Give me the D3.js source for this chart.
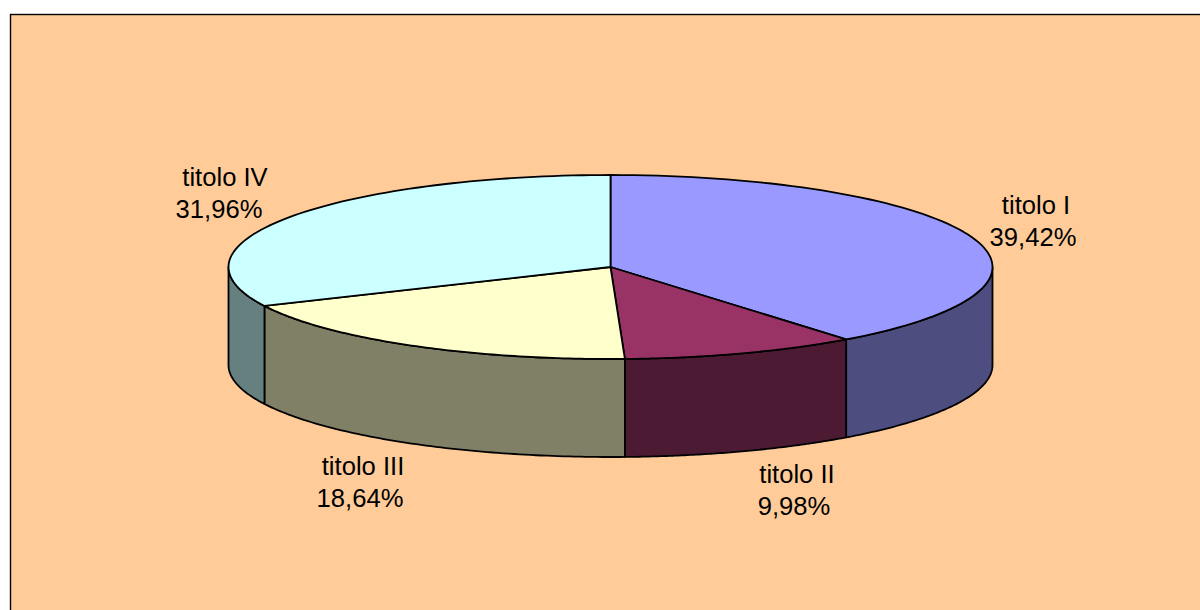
<!DOCTYPE html>
<html><head><meta charset="utf-8">
<script src="https://cdn.jsdelivr.net/npm/d3@7"></script>
<style>html,body{margin:0;padding:0;background:#fff}svg{display:block}</style>
</head><body><svg id="c" width="1200" height="610"></svg>
<script>
const categories = ["titolo I","titolo II","titolo III","titolo IV"];
const values = [39.42, 9.98, 18.64, 31.96];
const percentLabels = ["39,42%","9,98%","18,64%","31,96%"];
const topColors = ["#9999ff","#993366","#ffffcc","#ccffff"];
const sideColors = ["#4d4d80","#4d1a33","#808066","#668080"];
const titleX = [1036,797,363,225];
const percentX = [1033,794,360,219];
const labelY = [214,483,475,186];

const cx = 610.5, cy = 267, rx = 382, ry = 92, depth = 98;
const svg = d3.select("#c");
svg.append("rect").attr("x",10.5).attr("y",14.5).attr("width",1300).attr("height",700)
  .attr("fill","#ffcc99").attr("stroke","#000").attr("stroke-width",1.4);

const arcs = d3.pie().sort(null).value(d=>d)(values);
const px = a => cx + rx*Math.sin(a);
const py = (a,dy=0) => cy - ry*Math.cos(a) + dy;
const N = 80;
const rim = (a0,a1,dy) => d3.range(N+1).map(i=>{const a=a0+(a1-a0)*i/N;return [px(a),py(a,dy)];});
const line = d3.line();
const stroke = {stroke:"#000","stroke-width":1.8,"stroke-linejoin":"round"};
const style = s => { for(const k in stroke) s.attr(k,stroke[k]); return s; };

// side walls: only the front half of the disc (PI/2 .. 3PI/2) is visible
arcs.forEach((d,i)=>{
  const a0=Math.max(d.startAngle,Math.PI/2), a1=Math.min(d.endAngle,3*Math.PI/2);
  if(a1<=a0) return;
  const pts = rim(a0,a1,0).concat(rim(a0,a1,depth).reverse());
  style(svg.append("path").attr("d",line(pts)+"Z").attr("fill",sideColors[i]));
});
// top faces
arcs.forEach((d,i)=>{
  const pts = [[cx,cy]].concat(rim(d.startAngle,d.endAngle,0));
  style(svg.append("path").attr("d",line(pts)+"Z").attr("fill",topColors[i]));
});
// labels
categories.forEach((c,i)=>{
  const t = svg.append("text").attr("text-anchor","middle")
    .attr("font-family","'Liberation Sans',Arial,sans-serif").attr("font-size",25.6).attr("fill","#000");
  t.append("tspan").attr("x",titleX[i]).attr("y",labelY[i]).text(c);
  t.append("tspan").attr("x",percentX[i]).attr("y",labelY[i]+32).text(percentLabels[i]);
});
</script></body></html>
